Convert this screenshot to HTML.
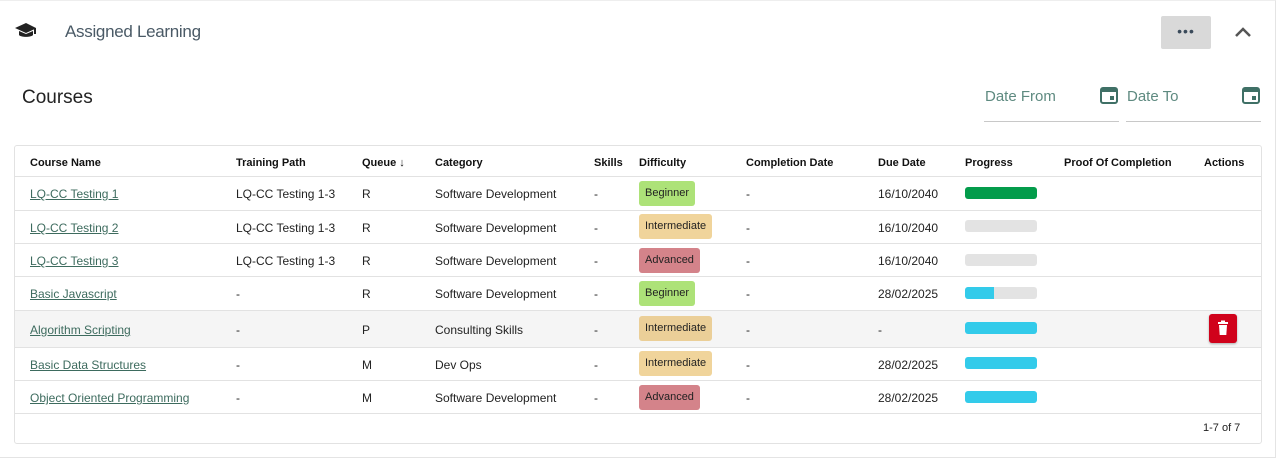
<!DOCTYPE html>
<html><head><style>
*{margin:0;padding:0;box-sizing:border-box}
body{width:1279px;height:460px;background:#fff;font-family:"Liberation Sans",sans-serif;position:relative;overflow:hidden;color:#222}
.a{position:absolute;white-space:nowrap}
.h{font-size:11px;font-weight:bold;color:#111;top:157px}
.c{font-size:12px;color:#222}
.lnk{color:#3d6b5e;text-decoration:underline}
.line{position:absolute;left:15px;width:1246px;height:1px;background:#e2e2e2}
.badge{position:absolute;left:639px;height:25px;border-radius:3px;font-size:11px;line-height:13px;padding:6px 6px 0;color:#222}
.bg{background:#ade278}.im{background:#f0d49b}.ad{background:#d4838a}
.bar{position:absolute;left:965px;width:72px;height:12px;border-radius:3px;background:#e3e3e3;overflow:hidden}
.bar i{display:block;height:100%}
</style></head><body>
<div class="a" style="left:0;top:0;width:1276px;height:458px;border:1px solid #e4e4e4;border-top:1px solid #eee;border-left:none"></div>
<svg class="a" style="left:15px;top:23px" width="22" height="16" viewBox="0 0 22 16"><path d="M11 0L0 5l11 5 8-3.6V11h2V5z" fill="#222"/><path d="M4 8v4c2 2.5 12 2.5 14 0V8l-7 3z" fill="#222"/></svg>
<div class="a" style="left:65px;top:22px;font-size:17px;color:#4a5a66;letter-spacing:-0.3px">Assigned Learning</div>
<div class="a" style="left:1161px;top:16px;width:50px;height:33px;background:#d9d9d9;border-radius:2px;text-align:center;line-height:30px;font-size:14px;color:#3a4a5a;letter-spacing:1px">•••</div>
<svg class="a" style="left:1234px;top:26px" width="18" height="12"><path d="M2 10L9 3l7 7" stroke="#555" stroke-width="2.5" fill="none"/></svg>
<div class="a" style="left:22px;top:87px;font-size:19px;color:#222">Courses</div>
<div class="a" style="left:985px;top:88px;font-size:15px;color:#5e8a80">Date From</div>
<div class="a" style="left:1127px;top:88px;font-size:15px;color:#5e8a80">Date To</div>
<svg class="a" style="left:1100px;top:86px" width="18" height="18"><rect x="1" y="2" width="16" height="15" rx="2" fill="none" stroke="#3f7066" stroke-width="2"/><rect x="1" y="2" width="16" height="4" fill="#3f7066"/><rect x="10" y="10" width="4" height="4" fill="#3f7066"/></svg>
<svg class="a" style="left:1242px;top:86px" width="18" height="18"><rect x="1" y="2" width="16" height="15" rx="2" fill="none" stroke="#3f7066" stroke-width="2"/><rect x="1" y="2" width="16" height="4" fill="#3f7066"/><rect x="10" y="10" width="4" height="4" fill="#3f7066"/></svg>
<div class="a" style="left:984px;top:121px;width:135px;height:1px;background:#c8c8c8"></div>
<div class="a" style="left:1126px;top:121px;width:135px;height:1px;background:#c8c8c8"></div>
<div class="a" style="left:14px;top:145px;width:1248px;height:299px;border:1px solid #e2e2e2;border-radius:3px"></div>
<div class="a" style="left:15px;top:311px;width:1246px;height:36px;background:#f5f5f5"></div>
<div class="a h" style="left:30px">Course Name</div>
<div class="a h" style="left:236px">Training Path</div>
<div class="a h" style="left:362px">Queue ↓</div>
<div class="a h" style="left:435px">Category</div>
<div class="a h" style="left:594px">Skills</div>
<div class="a h" style="left:639px">Difficulty</div>
<div class="a h" style="left:746px">Completion Date</div>
<div class="a h" style="left:878px">Due Date</div>
<div class="a h" style="left:965px">Progress</div>
<div class="a h" style="left:1064px">Proof Of Completion</div>
<div class="a h" style="left:1204px">Actions</div>
<div class="line" style="top:176px"></div><div class="line" style="top:210px"></div><div class="line" style="top:243px"></div><div class="line" style="top:276px"></div><div class="line" style="top:310px"></div><div class="line" style="top:347px"></div><div class="line" style="top:380px"></div><div class="line" style="top:413px"></div>

<div class="a c lnk" style="left:30px;top:187px">LQ-CC Testing 1</div><div class="a c" style="left:236px;top:187px">LQ-CC Testing 1-3</div><div class="a c" style="left:362px;top:187px">R</div><div class="a c" style="left:435px;top:187px">Software Development</div><div class="a c" style="left:594px;top:187px">-</div><div class="badge bg" style="top:181px">Beginner</div><div class="a c" style="left:746px;top:187px">-</div><div class="a c" style="left:878px;top:187px">16/10/2040</div><div class="bar" style="top:187px"><i style="width:100%;background:#039c4b"></i></div>

<div class="a c lnk" style="left:30px;top:221px">LQ-CC Testing 2</div><div class="a c" style="left:236px;top:221px">LQ-CC Testing 1-3</div><div class="a c" style="left:362px;top:221px">R</div><div class="a c" style="left:435px;top:221px">Software Development</div><div class="a c" style="left:594px;top:221px">-</div><div class="badge im" style="top:214px">Intermediate</div><div class="a c" style="left:746px;top:221px">-</div><div class="a c" style="left:878px;top:221px">16/10/2040</div><div class="bar" style="top:220px"></div>

<div class="a c lnk" style="left:30px;top:254px">LQ-CC Testing 3</div><div class="a c" style="left:236px;top:254px">LQ-CC Testing 1-3</div><div class="a c" style="left:362px;top:254px">R</div><div class="a c" style="left:435px;top:254px">Software Development</div><div class="a c" style="left:594px;top:254px">-</div><div class="badge ad" style="top:248px">Advanced</div><div class="a c" style="left:746px;top:254px">-</div><div class="a c" style="left:878px;top:254px">16/10/2040</div><div class="bar" style="top:254px"></div>

<div class="a c lnk" style="left:30px;top:287px">Basic Javascript</div><div class="a c" style="left:236px;top:287px">-</div><div class="a c" style="left:362px;top:287px">R</div><div class="a c" style="left:435px;top:287px">Software Development</div><div class="a c" style="left:594px;top:287px">-</div><div class="badge bg" style="top:281px">Beginner</div><div class="a c" style="left:746px;top:287px">-</div><div class="a c" style="left:878px;top:287px">28/02/2025</div><div class="bar" style="top:287px"><i style="width:40%;background:#33cbea"></i></div>

<div class="a c lnk" style="left:30px;top:323px">Algorithm Scripting</div><div class="a c" style="left:236px;top:323px">-</div><div class="a c" style="left:362px;top:323px">P</div><div class="a c" style="left:435px;top:323px">Consulting Skills</div><div class="a c" style="left:594px;top:323px">-</div><div class="badge im" style="top:316px;background:#ebcf98">Intermediate</div><div class="a c" style="left:746px;top:323px">-</div><div class="a c" style="left:878px;top:323px">-</div><div class="bar" style="top:322px"><i style="width:100%;background:#33cbea"></i></div>
<div class="a" style="left:1209px;top:314px;width:28px;height:29px;background:#d0021b;border-radius:3px;box-shadow:0 1px 2px rgba(0,0,0,.3)"><svg width="28" height="29"><rect x="9" y="8" width="10" height="2" fill="#fff"/><rect x="12" y="6.5" width="4" height="2" fill="#fff"/><path d="M10 11h8l-.7 10h-6.6z" fill="#fff"/></svg></div>

<div class="a c lnk" style="left:30px;top:358px">Basic Data Structures</div><div class="a c" style="left:236px;top:358px">-</div><div class="a c" style="left:362px;top:358px">M</div><div class="a c" style="left:435px;top:358px">Dev Ops</div><div class="a c" style="left:594px;top:358px">-</div><div class="badge im" style="top:351px">Intermediate</div><div class="a c" style="left:746px;top:358px">-</div><div class="a c" style="left:878px;top:358px">28/02/2025</div><div class="bar" style="top:357px"><i style="width:100%;background:#33cbea"></i></div>

<div class="a c lnk" style="left:30px;top:391px">Object Oriented Programming</div><div class="a c" style="left:236px;top:391px">-</div><div class="a c" style="left:362px;top:391px">M</div><div class="a c" style="left:435px;top:391px">Software Development</div><div class="a c" style="left:594px;top:391px">-</div><div class="badge ad" style="top:385px">Advanced</div><div class="a c" style="left:746px;top:391px">-</div><div class="a c" style="left:878px;top:391px">28/02/2025</div><div class="bar" style="top:391px"><i style="width:100%;background:#33cbea"></i></div>

<div class="a" style="left:1203px;top:422px;font-size:11px;color:#222">1-7 of 7</div>
</body></html>
